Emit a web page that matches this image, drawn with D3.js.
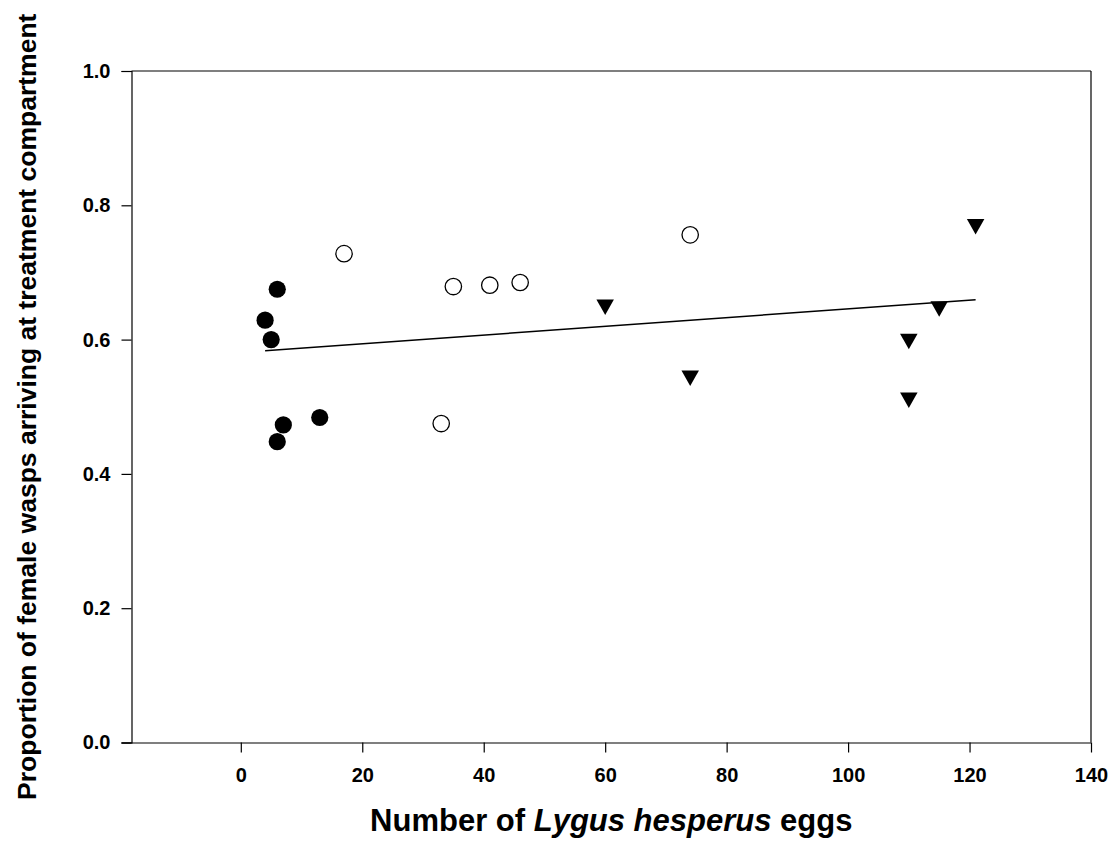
<!DOCTYPE html>
<html>
<head>
<meta charset="utf-8">
<script src="https://cdn.jsdelivr.net/npm/d3@7"></script>
<style>
  html, body { margin: 0; padding: 0; background: #fff; }
  svg { display: block; }
  text { font-family: "Liberation Sans", Arial, sans-serif; font-weight: bold; fill: #000; }
</style>
</head>
<body>
<svg id="chart" width="1115" height="865"></svg>
<script>
// Egg counts (x) and proportion of females arriving (y), one array pair per treatment group
const lowEggsX  = [4, 5, 6, 6, 7, 13];
const lowEggsY  = [0.629, 0.600, 0.675, 0.448, 0.473, 0.484];
const midEggsX  = [17, 33, 35, 41, 46, 74];
const midEggsY  = [0.728, 0.475, 0.679, 0.681, 0.685, 0.756];
const highEggsX = [60, 74, 110, 110, 115, 121];
const highEggsY = [0.648, 0.5425, 0.597, 0.5095, 0.6455, 0.768];

const xTicks = [0, 20, 40, 60, 80, 100, 120, 140];
const yTicks = [0.0, 0.2, 0.4, 0.6, 0.8, 1.0];

const svg = d3.select("#chart");
const plot = { left: 131.5, right: 1091, top: 71, bottom: 742.5 };

const x = d3.scaleLinear().domain([-18, 140]).range([plot.left, plot.right]);
const y = d3.scaleLinear().domain([0, 1]).range([plot.bottom, plot.top]);

// Frame: top and right edges
svg.append("line").attr("x1", plot.left).attr("x2", plot.right)
  .attr("y1", plot.top).attr("y2", plot.top).attr("stroke", "#000").attr("stroke-width", 1.2);
svg.append("line").attr("x1", plot.right).attr("x2", plot.right)
  .attr("y1", plot.top).attr("y2", plot.bottom).attr("stroke", "#000").attr("stroke-width", 1.2);

// Bottom axis
const xAxis = svg.append("g")
  .attr("transform", `translate(0,${plot.bottom})`)
  .call(d3.axisBottom(x).tickValues(xTicks).tickSize(10).tickPadding(15).tickFormat(d3.format("d")));
xAxis.select(".domain").attr("d", `M${plot.left - 10},0.5H${plot.right}`);

// Left axis
const yAxis = svg.append("g")
  .attr("transform", `translate(${plot.left},0)`)
  .call(d3.axisLeft(y).tickValues(yTicks).tickSize(10).tickPadding(11).tickFormat(d3.format(".1f")));

[xAxis, yAxis].forEach(g => {
  g.selectAll(".domain, .tick line").attr("stroke", "#000").attr("stroke-width", 1.2);
  g.selectAll(".tick text").attr("font-size", 20).attr("font-weight", "bold")
    .attr("font-family", "'Liberation Sans', Arial, sans-serif").attr("fill", "#000");
});

// Least-squares fit over all points
const allX = lowEggsX.concat(midEggsX, highEggsX);
const allY = lowEggsY.concat(midEggsY, highEggsY);
const mx = d3.mean(allX), my = d3.mean(allY);
const slope = d3.sum(allX, (v, i) => (v - mx) * (allY[i] - my)) / d3.sum(allX, v => (v - mx) ** 2);
const intercept = my - slope * mx;
const [x0, x1] = d3.extent(allX);
svg.append("line")
  .attr("x1", x(x0)).attr("y1", y(intercept + slope * x0))
  .attr("x2", x(x1)).attr("y2", y(intercept + slope * x1))
  .attr("stroke", "#000").attr("stroke-width", 1.5);

const zip = (xs, ys) => xs.map((v, i) => ({ x: v, y: ys[i] }));

// Filled circles
svg.append("g").selectAll("circle").data(zip(lowEggsX, lowEggsY)).join("circle")
  .attr("cx", d => x(d.x)).attr("cy", d => y(d.y)).attr("r", 8.6).attr("fill", "#000");

// Open circles
svg.append("g").selectAll("circle").data(zip(midEggsX, midEggsY)).join("circle")
  .attr("cx", d => x(d.x)).attr("cy", d => y(d.y)).attr("r", 8.2)
  .attr("fill", "#fff").attr("stroke", "#000").attr("stroke-width", 1.3);

// Downward triangles
const triW = 17.5, triH = 15.5;
svg.append("g").selectAll("path").data(zip(highEggsX, highEggsY)).join("path")
  .attr("d", d => {
    const cx = x(d.x), cy = y(d.y);
    return `M${cx - triW / 2},${cy - triH / 2}L${cx + triW / 2},${cy - triH / 2}L${cx},${cy + triH / 2}Z`;
  })
  .attr("fill", "#000");

// Axis titles
const xTitle = svg.append("text")
  .attr("x", (plot.left + plot.right) / 2).attr("y", 831)
  .attr("text-anchor", "middle").attr("font-size", 31);
xTitle.append("tspan").text("Number of ");
xTitle.append("tspan").attr("font-style", "italic").text("Lygus hesperus");
xTitle.append("tspan").text(" eggs");

svg.append("text")
  .attr("transform", `translate(36,${(plot.top + plot.bottom) / 2}) rotate(-90)`)
  .attr("text-anchor", "middle").attr("font-size", 26.5)
  .text("Proportion of female wasps arriving at treatment compartment");
</script>
</body>
</html>
